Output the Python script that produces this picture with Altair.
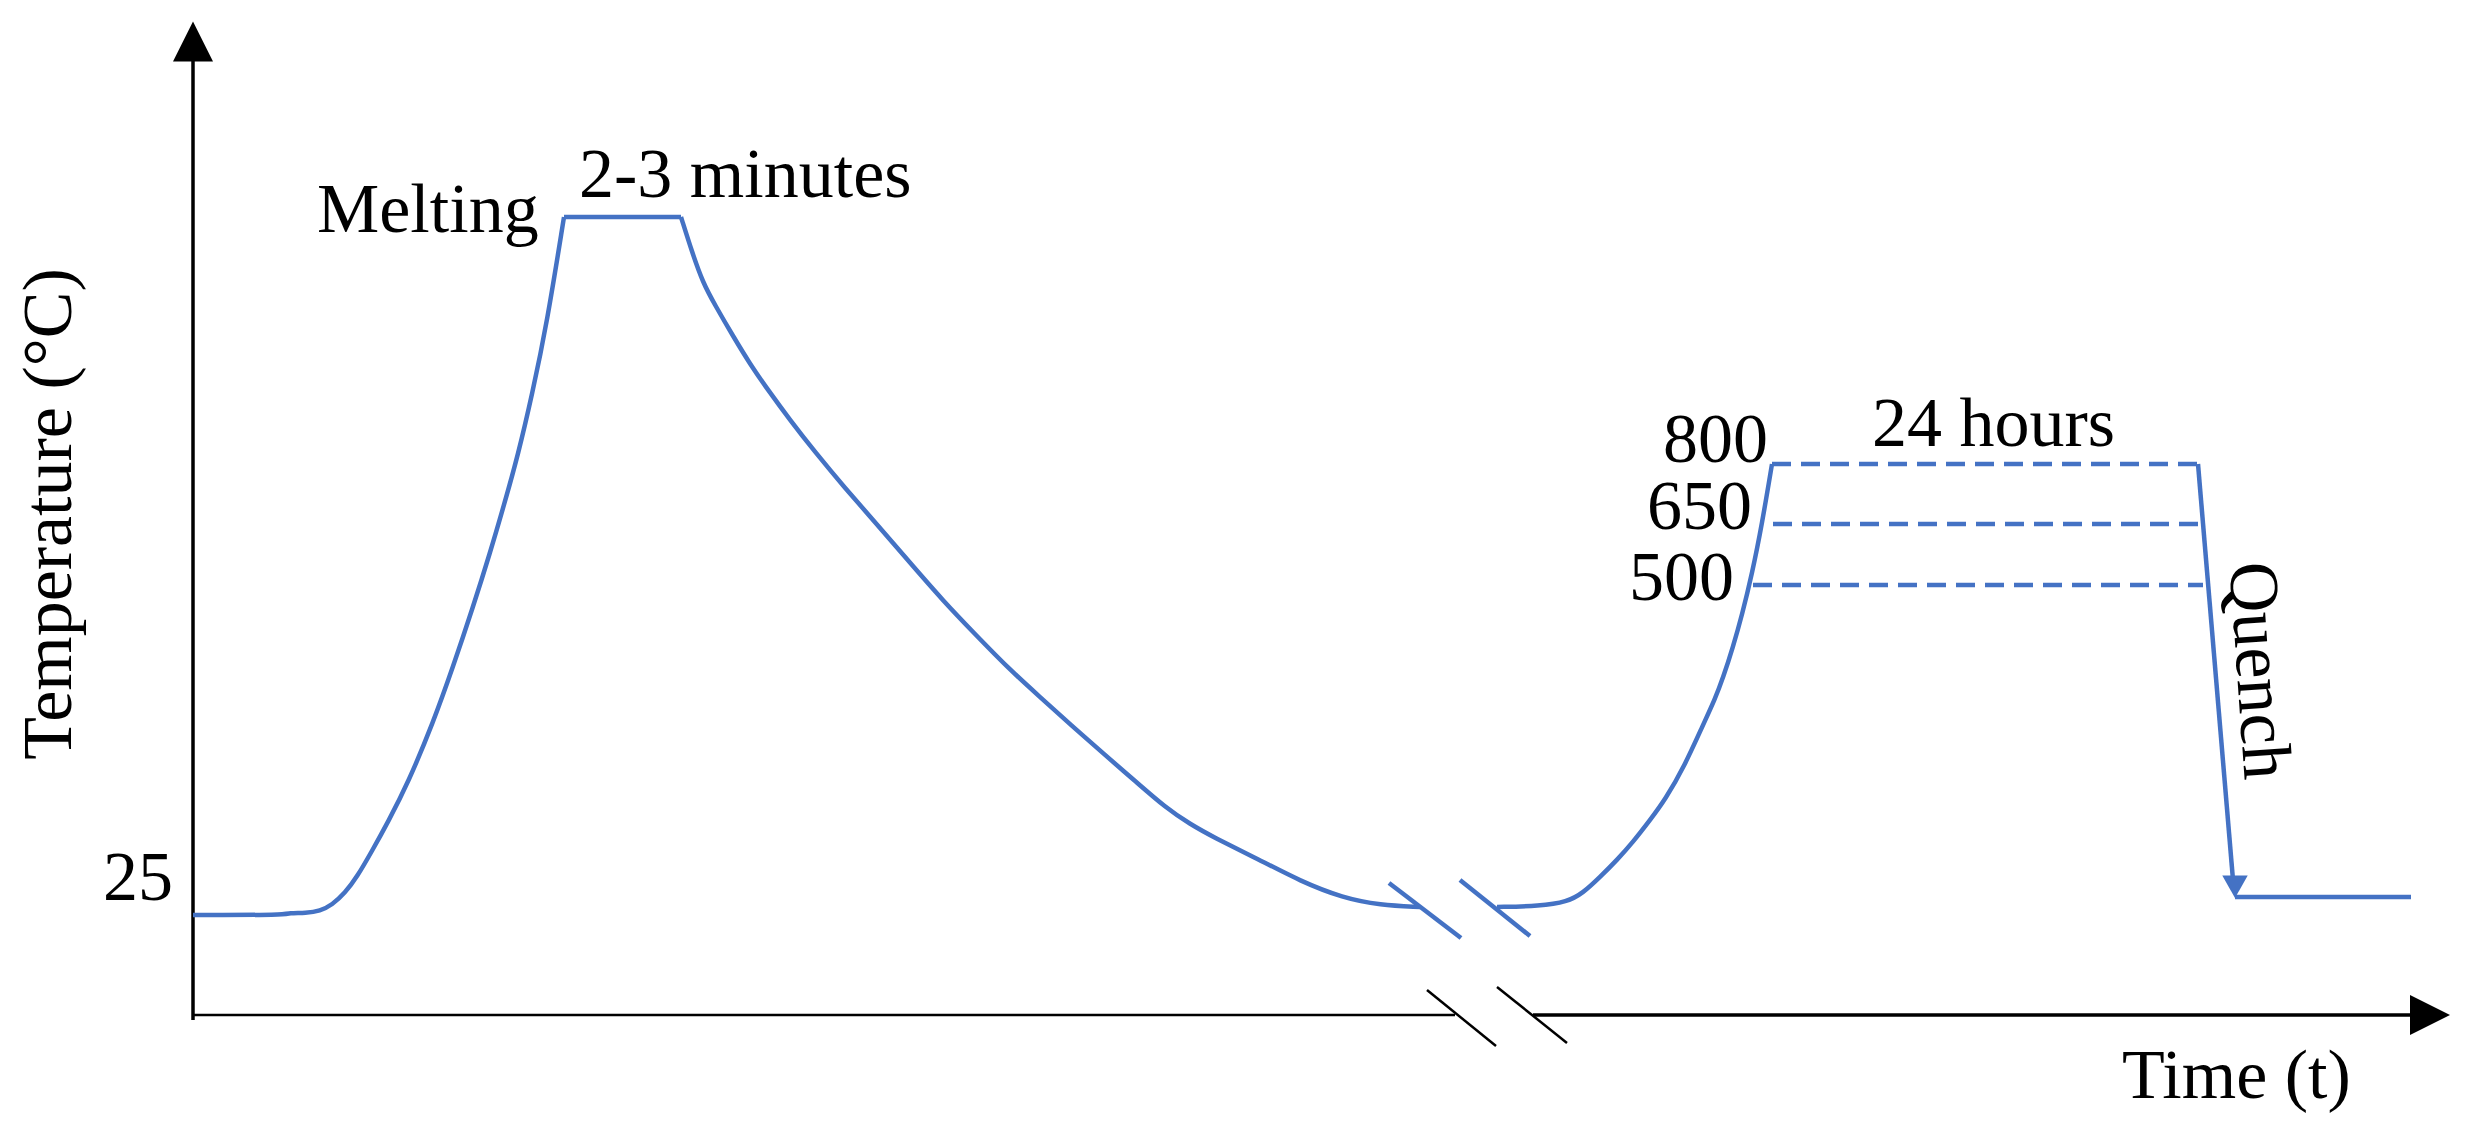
import altair as alt
import pandas as pd

# ---- schematic coordinates (pixel grid of the figure) ----
X0, Y0 = 193, 1015  # origin of the time / temperature axes

# melting cycle: heating ramp, 2-3 min plateau, cooling
up_x = [193, 287, 288, 306, 320, 332, 345, 357, 372, 388, 408, 433, 453, 473, 490, 504, 518,
        532, 547, 564]
up_y = [915, 915, 913, 913, 911, 905, 893, 877, 851, 822, 783, 723, 667, 607, 553, 505, 455,
        395, 323, 217]
plat_x = [564, 681]
plat_y = [217, 217]
down_x = [681, 692, 703, 715, 733, 750, 768, 790, 815, 845, 875, 905, 945, 975, 1008, 1040,
          1071, 1105, 1134, 1166, 1190, 1213, 1260, 1300, 1343, 1380, 1420]
down_y = [217, 252, 283, 305, 336, 364, 390, 420, 452, 488, 522, 557, 603, 634, 668, 697,
          725, 755, 780, 808, 824, 837, 860, 881, 898, 905, 907]

# heating to the annealing temperature
anneal_x = [1497, 1540, 1567, 1583, 1600, 1617, 1633, 1650, 1665, 1685, 1703, 1715, 1723, 1733,
            1742, 1752, 1762, 1772]
anneal_y = [907, 906, 902, 893, 877, 860, 842, 820, 800, 765, 725, 699, 678, 647, 615, 574, 524,
            464]

# quench and final room temperature
quench_x = [2198, 2233]
quench_y = [464, 880]
final_x = [2235, 2411]
final_y = [897, 897]

# annealing holds (800 / 650 / 500 °C)
hold_labels = ["800", "650", "500"]
hold_x1 = [1772, 1773, 1753]
hold_x2 = [2198, 2198, 2203]
hold_y = [464, 524, 585]

# axis-break slashes
brk_blue_x1 = [1389, 1460]
brk_blue_y1 = [883, 880]
brk_blue_x2 = [1461, 1530]
brk_blue_y2 = [938, 936]
brk_black_x1 = [1427, 1497]
brk_black_y1 = [990, 987]
brk_black_x2 = [1496, 1567]
brk_black_y2 = [1046, 1043]

# labels
left_text = ["Melting", "2-3 minutes", "24 hours", "Time (t)"]
left_x = [317, 579, 1872, 2122]
left_y = [232, 197, 446, 1098]
right_text = ["25", "800", "650", "500"]
right_x = [173, 1768, 1752, 1734]
right_y = [900, 462, 529, 600]
rot_text = ["Temperature (°C)", "Quench"]
rot_x = [71, 2237]
rot_y = [514, 672]
rot_angle = [270, 86]

BLUE = "#4472C4"
FONT = "Liberation Serif"
W, H = 2450, 1105


def tx(v):
    return [a - X0 for a in v]


def ty(v):
    return [Y0 - a for a in v]


xs = alt.Scale(domain=[8 - X0, 8 + W - X0], nice=False, zero=False)
ys = alt.Scale(domain=[Y0 - (8 + H), Y0 - 8], nice=False, zero=False)


def X(f):
    return alt.X(f, type="quantitative", scale=xs, axis=None)


def Y(f):
    return alt.Y(f, type="quantitative", scale=ys, axis=None)


# curves
rows = []
for seg, xv, yv in [("up", up_x, up_y), ("plateau", plat_x, plat_y), ("down", down_x, down_y),
                    ("anneal", anneal_x, anneal_y), ("quench", quench_x, quench_y),
                    ("final", final_x, final_y)]:
    for i, (a, b) in enumerate(zip(tx(xv), ty(yv))):
        rows.append({"t": a, "T": b, "seg": seg, "ord": i})
curve_df = pd.DataFrame(rows)

curves = alt.Chart(curve_df).mark_line(color=BLUE, strokeWidth=4.5, interpolate="basis").encode(
    x=X("t"), y=Y("T"), detail="seg:N", order="ord:Q")

hold_df = pd.DataFrame({"label": hold_labels, "t": tx(hold_x1), "t2": tx(hold_x2), "T": ty(hold_y)})
holds = alt.Chart(hold_df).mark_rule(color=BLUE, strokeWidth=4.5, strokeDash=[19, 10]).encode(
    x=X("t"), x2="t2", y=Y("T"))

bb_df = pd.DataFrame({"t": tx(brk_blue_x1), "T": ty(brk_blue_y1), "t2": tx(brk_blue_x2), "T2": ty(brk_blue_y2)})
brk_blue = alt.Chart(bb_df).mark_rule(color=BLUE, strokeWidth=4.5).encode(
    x=X("t"), y=Y("T"), x2="t2", y2="T2")
bk_df = pd.DataFrame({"t": tx(brk_black_x1), "T": ty(brk_black_y1), "t2": tx(brk_black_x2), "T2": ty(brk_black_y2)})
brk_black = alt.Chart(bk_df).mark_rule(color="black", strokeWidth=2.5).encode(
    x=X("t"), y=Y("T"), x2="t2", y2="T2")

# axes drawn as lines with arrowheads
yaxis_df = pd.DataFrame({"t": [0], "T": [-5], "T2": [Y0 - 50]})
yaxis = alt.Chart(yaxis_df).mark_rule(color="black", strokeWidth=3.5).encode(
    x=X("t"), y=Y("T"), y2="T2")
xaxis_l_df = pd.DataFrame({"t": [0], "t2": [1455 - X0], "T": [0]})
xaxis_l = alt.Chart(xaxis_l_df).mark_rule(color="black", strokeWidth=2.5).encode(
    x=X("t"), x2="t2", y=Y("T"))
xaxis_r_df = pd.DataFrame({"t": [1533 - X0], "t2": [2415 - X0], "T": [0]})
xaxis_r = alt.Chart(xaxis_r_df).mark_rule(color="black", strokeWidth=3.5).encode(
    x=X("t"), x2="t2", y=Y("T"))

up_df = pd.DataFrame({"t": [0], "T": [Y0 - 41.5]})
up_arrow = alt.Chart(up_df).mark_point(shape="M0,-1L1,1L-1,1Z", filled=True, color="black",
                                       opacity=1, size=1600, strokeWidth=0).encode(x=X("t"), y=Y("T"))
right_df = pd.DataFrame({"t": [2430 - X0], "T": [0]})
right_arrow = alt.Chart(right_df).mark_point(shape="M1,0L-1,-1L-1,1Z", filled=True, color="black",
                                             opacity=1, size=1600, strokeWidth=0).encode(x=X("t"), y=Y("T"))
down_df = pd.DataFrame({"t": [2235 - X0], "T": [Y0 - 886.75]})
down_arrow = alt.Chart(down_df).mark_point(shape="M0,0.75L-0.85,-0.75L0.85,-0.75Z", filled=True,
                                           color=BLUE, opacity=1, size=900,
                                           strokeWidth=0).encode(x=X("t"), y=Y("T"))

# text
lt_df = pd.DataFrame({"text": left_text, "t": tx(left_x), "T": ty(left_y)})
lt = alt.Chart(lt_df).mark_text(font=FONT, fontSize=70, align="left", baseline="alphabetic",
                                color="black").encode(x=X("t"), y=Y("T"), text="text:N")
rt_df = pd.DataFrame({"text": right_text, "t": tx(right_x), "T": ty(right_y)})
rt = alt.Chart(rt_df).mark_text(font=FONT, fontSize=70, align="right", baseline="alphabetic",
                                color="black").encode(x=X("t"), y=Y("T"), text="text:N")
ro_df = pd.DataFrame({"text": rot_text, "t": tx(rot_x), "T": ty(rot_y), "angle": rot_angle})
ro = alt.Chart(ro_df).mark_text(font=FONT, fontSize=70, align="center", baseline="alphabetic",
                                color="black").encode(x=X("t"), y=Y("T"), text="text:N",
                                                      angle=alt.Angle("angle:Q", scale=None))

chart = alt.layer(
    yaxis, xaxis_l, xaxis_r, brk_black, up_arrow, right_arrow,
    holds, curves, brk_blue, down_arrow, lt, rt, ro
).properties(
    width=W, height=H, autosize=alt.AutoSizeParams(type="none"), padding=0, background="white"
).configure_view(strokeWidth=0)

chart.save("out.html", embed_options={"renderer": "svg", "actions": False})
